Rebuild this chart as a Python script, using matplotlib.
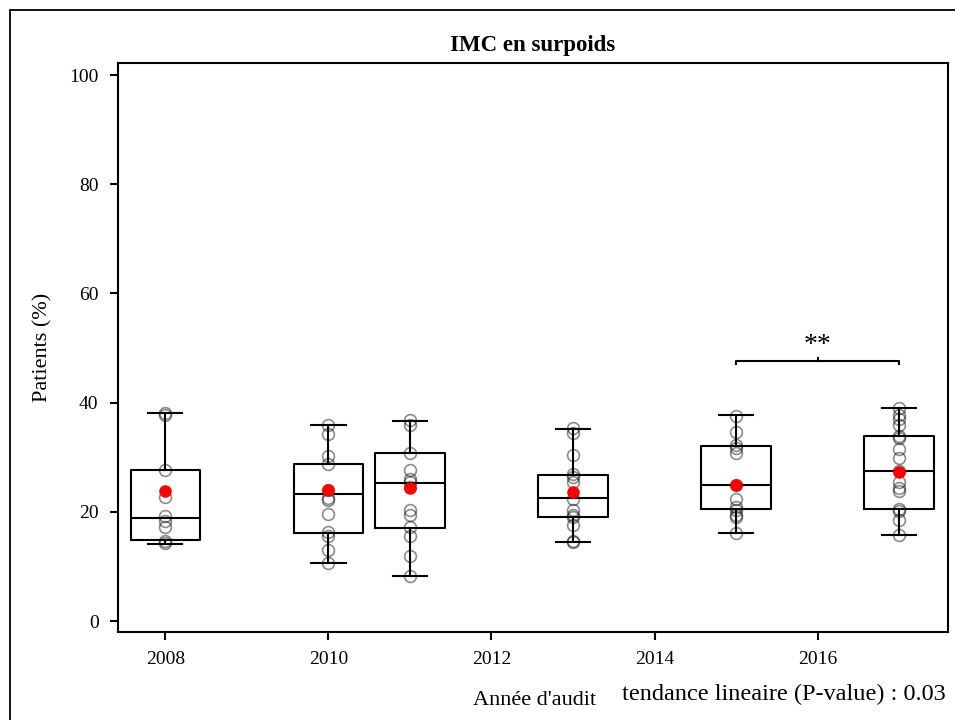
import numpy as np
import matplotlib
matplotlib.use('Agg')
import matplotlib.pyplot as plt
from matplotlib.patches import Rectangle

plt.rcParams['font.family'] = ['Liberation Serif', 'DejaVu Serif']

# Audit years and box statistics
years = [2008, 2010, 2011, 2013, 2015, 2017]
q1 = [14.8, 16.2, 17.0, 19.0, 20.6, 20.5]
med = [18.9, 23.2, 25.2, 22.5, 24.9, 27.5]
q3 = [27.6, 28.7, 30.7, 26.7, 32.1, 33.9]
whislo = [14.2, 10.7, 8.2, 14.5, 16.2, 15.8]
whishi = [38.1, 35.9, 36.7, 35.2, 37.7, 39.0]
means = [23.8, 24.0, 24.3, 23.7, 25.0, 27.3]

# Individual centre values per year
p2008 = [38.1, 37.7, 27.6, 22.8, 19.3, 18.3, 17.2, 14.7, 14.3]
p2010 = [35.9, 34.3, 30.3, 28.8, 24.0, 22.6, 22.2, 19.6, 16.3, 15.5, 13.0, 10.7]
p2011 = [36.8, 35.9, 30.8, 27.6, 26.0, 25.5, 24.6, 20.3, 19.5, 17.2, 15.6, 12.0, 8.2]
p2013 = [35.3, 34.4, 30.4, 26.9, 26.3, 25.4, 22.3, 20.3, 19.4, 19.0, 17.6, 14.7, 14.5]
p2015 = [37.6, 34.6, 32.2, 31.7, 30.8, 24.9, 22.3, 20.9, 20.3, 19.4, 19.0, 16.2]
p2017 = [39.0, 37.7, 37.0, 35.9, 33.9, 33.5, 31.6, 29.9, 27.4, 25.4, 24.3, 23.9,
         20.6, 20.1, 18.5, 15.8]
points = [p2008, p2010, p2011, p2013, p2015, p2017]

xticks = [2008, 2010, 2012, 2014, 2016]
yticks = [0, 20, 40, 60, 80, 100]

# significance bracket between 2015 and 2017
sig_pair = (2015, 2017)
sig_level = 47.6
sig_label = '**'

fig = plt.figure(figsize=(9.55, 7.2), dpi=100)
ax = fig.add_axes([0.1236, 0.1222, 0.8691, 0.7903])

stats = []
for i in range(len(years)):
    stats.append(dict(med=med[i], q1=q1[i], q3=q3[i], whislo=whislo[i],
                      whishi=whishi[i], mean=means[i], fliers=[]))

lw = 1.5
ax.bxp(stats, positions=years, widths=0.85, capwidths=0.42, showmeans=False,
       manage_ticks=False,
       boxprops=dict(color='black', linewidth=lw),
       medianprops=dict(color='black', linewidth=lw),
       whiskerprops=dict(color='black', linewidth=lw),
       capprops=dict(color='black', linewidth=lw))

for yr, pts in zip(years, points):
    ax.plot(np.full(len(pts), yr), pts, 'o', ms=8.5, mfc='none', mec='black',
            mew=1.2, alpha=0.45, zorder=3)

ax.plot(years, means, 'o', ms=8, color='red', zorder=4)

# bracket with end ticks and centre tick
x0, x1 = sig_pair
ax.plot([x0, x0, x1, x1], [sig_level - 0.6, sig_level, sig_level, sig_level - 0.6],
        color='black', lw=lw)
xm = (x0 + x1) / 2
ax.plot([xm, xm], [sig_level, sig_level + 0.6], color='black', lw=lw)
ax.text(xm, sig_level + 0.6, sig_label, ha='center', va='bottom', fontsize=20)

ax.set_xlim(2007.42, 2017.6)
ax.set_ylim(-2.0, 102.2)
ax.set_xticks(xticks)
ax.set_xticklabels([str(t) for t in xticks], fontsize=14)
ax.set_yticks(yticks)
ax.set_yticklabels([str(t) for t in yticks], fontsize=14)
ax.tick_params(direction='out', length=6, width=lw, pad=8)
for s in ax.spines.values():
    s.set_linewidth(lw)

ax.set_ylabel('Patients (%)', fontsize=16, labelpad=12)
ax.set_title('IMC en surpoids', fontsize=16.5, fontweight='bold', pad=9)
fig.text(0.56, 0.027, "Année d'audit", ha='center', va='center', fontsize=16)
fig.text(0.99, 0.036, 'tendance lineaire (P-value) : 0.03', ha='right',
         va='center', fontsize=17.5)

# outer frame around the plotting region
fig.patches.append(Rectangle((10 / 955, -0.05), 1.2, 1 - 10 / 720 + 0.05,
                             transform=fig.transFigure, fill=False,
                             edgecolor='black', linewidth=1.3))

fig.savefig('out.png', dpi=100)
